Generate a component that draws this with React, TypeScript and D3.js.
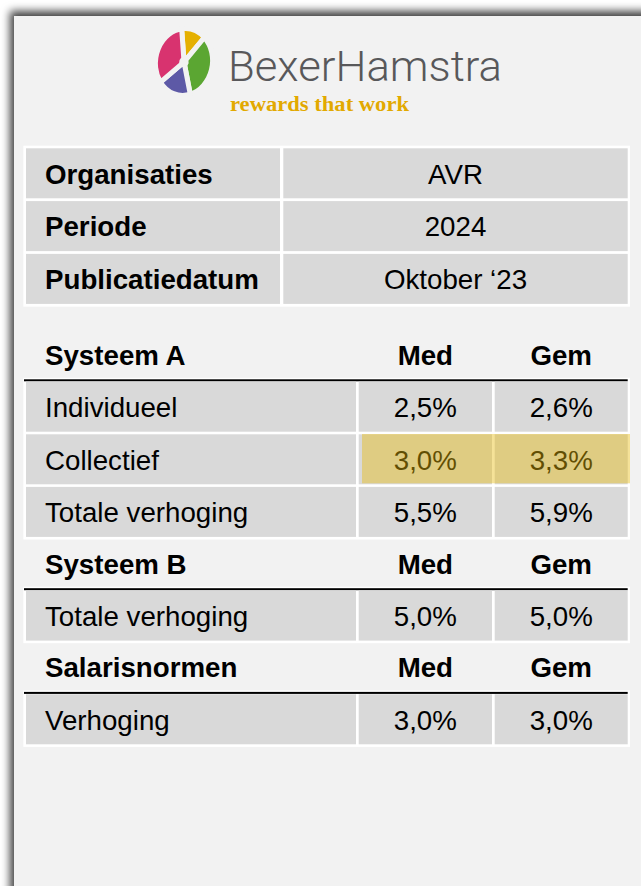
import React from "react";
import * as d3 from "d3";

const metaLabels = ["Organisaties", "Periode", "Publicatiedatum"];
const metaValues = ["AVR", "2024", "Oktober \u201823"];

const sectionTitles = ["Systeem A", "Systeem B", "Salarisnormen"];
const columnHeaders = ["Med", "Gem"];

const rowsA = ["Individueel", "Collectief", "Totale verhoging"];
const medA = [2.5, 3.0, 5.5];
const gemA = [2.6, 3.3, 5.9];

const rowsB = ["Totale verhoging"];
const medB = [5.0];
const gemB = [5.0];

const rowsC = ["Verhoging"];
const medC = [3.0];
const gemC = [3.0];

const highlightLabel = "Collectief";

const logoPieces = [
  { name: "yellow", start: -14, end: 36, color: "#e5b000" },
  { name: "green", start: 36, end: 158, color: "#5ba632" },
  { name: "purple", start: 158, end: 226, color: "#5d59a6" },
  { name: "magenta", start: 226, end: 346, color: "#d8336f" },
];

const W = 641;
const H = 886;
const FONT = "'Liberation Sans', Arial, Helvetica, sans-serif";
const FS = 27.7;
const GRAY = "#d9d9d9";
const CARD = "#f2f2f2";

const fmt = (v: number) => d3.format(".1f")(v).replace(".", ",") + "%";

export default function App() {
  const sections = [
    { title: sectionTitles[0], rows: rowsA, med: medA, gem: gemA },
    { title: sectionTitles[1], rows: rowsB, med: medB, gem: gemB },
    { title: sectionTitles[2], rows: rowsC, med: medC, gem: gemC },
  ];

  const left = 23.3;
  const right = 630;
  const gap = 2.6;
  const cellH = 50;

  const topCols = [26, 280, 283.3, 627.7];
  const topRowY = d3.range(metaLabels.length).map((i) => 148.3 + i * (cellH + 2.8));

  const colX = d3
    .scaleOrdinal<string, [number, number]>()
    .domain(["label", "Med", "Gem"])
    .range([
      [26, 356],
      [358.7, 492],
      [494.7, 627.7],
    ]);

  const arc = d3.arc<any>().innerRadius(0.08).outerRadius(1);

  const sectionEls: React.ReactNode[] = [];
  let y = 379.3;
  sections.forEach((s, si) => {
    const lineY = y;
    const cellsTop = lineY + 2.4;
    const rowYs = s.rows.map((_, i) => cellsTop + i * (cellH + gap));
    const lastBottom = rowYs[rowYs.length - 1] + cellH;
    sectionEls.push(
      <g key={"s" + si}>
        <rect x={left} y={lineY - 1.5} width={right - left} height={lastBottom + gap - (lineY - 1.5)} fill="#ffffff" />
        <text x={45} y={lineY - 25 + 10.3} fontFamily={FONT} fontSize={FS} fontWeight="bold" fill="#000">
          {s.title}
        </text>
        {columnHeaders.map((h) => {
          const [a, b] = colX(h);
          return (
            <text key={h} x={(a + b) / 2} y={lineY - 25 + 10.3} textAnchor="middle" fontFamily={FONT} fontSize={FS} fontWeight="bold" fill="#000">
              {h}
            </text>
          );
        })}
        <rect x={left + 0.7} y={lineY} width={627.7 - left - 0.7} height={2} fill="#000" />
        {s.rows.map((r, i) => {
          const ry = rowYs[i];
          const [la, lb] = colX("label");
          const [ma, mb] = colX("Med");
          const [ga, gb] = colX("Gem");
          const cy = ry + cellH / 2 + 10.3;
          return (
            <g key={r + i}>
              <rect x={la} y={ry} width={lb - la} height={cellH} fill={GRAY} />
              <rect x={ma} y={ry} width={mb - ma} height={cellH} fill={GRAY} />
              <rect x={ga} y={ry} width={gb - ga} height={cellH} fill={GRAY} />
              <text x={45} y={cy} fontFamily={FONT} fontSize={FS} fill="#000">
                {r}
              </text>
              <text x={(ma + mb) / 2} y={cy} textAnchor="middle" fontFamily={FONT} fontSize={FS} fill="#000">
                {fmt(s.med[i])}
              </text>
              <text x={(ga + gb) / 2} y={cy} textAnchor="middle" fontFamily={FONT} fontSize={FS} fill="#000">
                {fmt(s.gem[i])}
              </text>
              {r === highlightLabel && (
                <rect x={362} y={ry - 0.3} width={right - 362} height={cellH - 0.7} fill="#e8b90a" opacity={0.42} />
              )}
            </g>
          );
        })}
      </g>
    );
    y = lastBottom + gap + 48.7;
  });

  return (
    <div style={{ position: "absolute", left: 0, top: 0 }}>
      <svg width={W} height={H} style={{ display: "block" }}>
        <defs>
          <filter id="shadow" x="-10%" y="-10%" width="120%" height="120%">
            <feDropShadow dx={-4} dy={-5} stdDeviation={4.5} floodColor="#000" floodOpacity={0.75} />
          </filter>
        </defs>
        <rect x={0} y={0} width={W} height={H} fill="#ffffff" />
        <rect x={14} y={16} width={W + 40} height={H + 40} fill={CARD} filter="url(#shadow)" />

        {/* Logo */}
        <g transform="translate(184,62) rotate(8) scale(28.5,33.5)">
          {logoPieces.map((p) => (
            <path
              key={p.name}
              d={arc({ startAngle: (p.start * Math.PI) / 180, endAngle: (p.end * Math.PI) / 180 }) as string}
              fill={p.color}
              stroke={CARD}
              strokeWidth={5}
              strokeLinejoin="round"
              vectorEffect="non-scaling-stroke"
            />
          ))}
        </g>
        <text x={228} y={80.5} fontFamily="Roboto, 'DejaVu Sans', sans-serif" fontSize={43} fontWeight={300} fill="#58585a" textLength={274} lengthAdjust="spacingAndGlyphs">
          BexerHamstra
        </text>
        <text x={230} y={111} fontFamily="'Liberation Serif', 'DejaVu Serif', serif" fontWeight="bold" fontSize={20.5} fill="#e2a900" textLength={179} lengthAdjust="spacingAndGlyphs">
          rewards that work
        </text>

        {/* Top meta table */}
        <rect x={left} y={145.7} width={right - left} height={306.7 - 145.7} fill="#ffffff" />
        {metaLabels.map((lab, i) => {
          const ry = topRowY[i];
          const cy = ry + cellH / 2 + 10.3;
          return (
            <g key={lab}>
              <rect x={topCols[0]} y={ry} width={topCols[1] - topCols[0]} height={cellH} fill={GRAY} />
              <rect x={topCols[2]} y={ry} width={topCols[3] - topCols[2]} height={cellH} fill={GRAY} />
              <text x={45} y={cy} fontFamily={FONT} fontSize={FS} fontWeight="bold" fill="#000">
                {lab}
              </text>
              <text x={(topCols[2] + topCols[3]) / 2} y={cy} textAnchor="middle" fontFamily={FONT} fontSize={FS} fill="#000">
                {metaValues[i]}
              </text>
            </g>
          );
        })}

        {sectionEls}
      </svg>
    </div>
  );
}
